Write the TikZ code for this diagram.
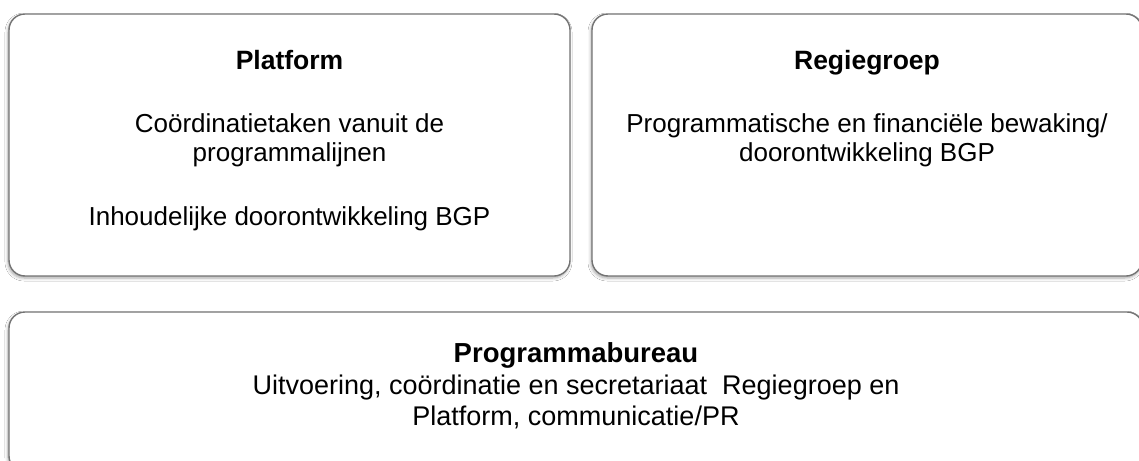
\documentclass[tikz,border=0pt]{standalone}
\usepackage{fontspec}
\setmainfont{Liberation Sans}
\usetikzlibrary{shadows.blur}
\tikzset{
  card/.style={draw=black!55, line width=1.4pt, fill=white, rounded corners=16pt,
    blur shadow={shadow xshift=-1pt, shadow yshift=-2pt, shadow blur steps=5, shadow blur radius=3pt, shadow opacity=35}},
  txt/.style={font=\fontsize{26}{29}\selectfont, align=center, inner sep=0pt, anchor=base},
  ttl/.style={txt, font=\fontsize{26.5}{29}\selectfont\bfseries},
  btxt/.style={txt, font=\fontsize{27}{31}\selectfont},
  bttl/.style={txt, font=\fontsize{27.5}{31}\selectfont\bfseries}
}
\begin{document}
\begin{tikzpicture}[x=1pt,y=-1pt]
\useasboundingbox (0,0) rectangle (1139,460);
\clip (0,0) rectangle (1139,460);
\fill[white] (0,0) rectangle (1139,460);
\draw[card] (9,14) rectangle (570,276);
\draw[card] (592,14) rectangle (1142,276);
\draw[card] (9,312) rectangle (1143,472);
\node[ttl] (t1) at (289.5,69.5) {Platform};
\node[txt] (l1) at (289.5,132) {Coördinatietaken vanuit de};
\node[txt] (l2) at (289.5,161) {programmalijnen};
\node[txt] (l3) at (289.5,225) {Inhoudelijke doorontwikkeling BGP};
\node[ttl] (t2) at (867,69.5) {Regiegroep};
\node[txt] (r1) at (867,132) {Programmatische en financiële bewaking/};
\node[txt] (r2) at (867,161) {doorontwikkeling BGP};
\node[bttl] (t3) at (576,362.5) {Programmabureau};
\node[btxt] (p1) at (576,394.5) {Uitvoering, coördinatie en secretariaat\ \ Regiegroep en};
\node[btxt] (p2) at (576,425.5) {Platform, communicatie/PR};
\end{tikzpicture}
\end{document}
